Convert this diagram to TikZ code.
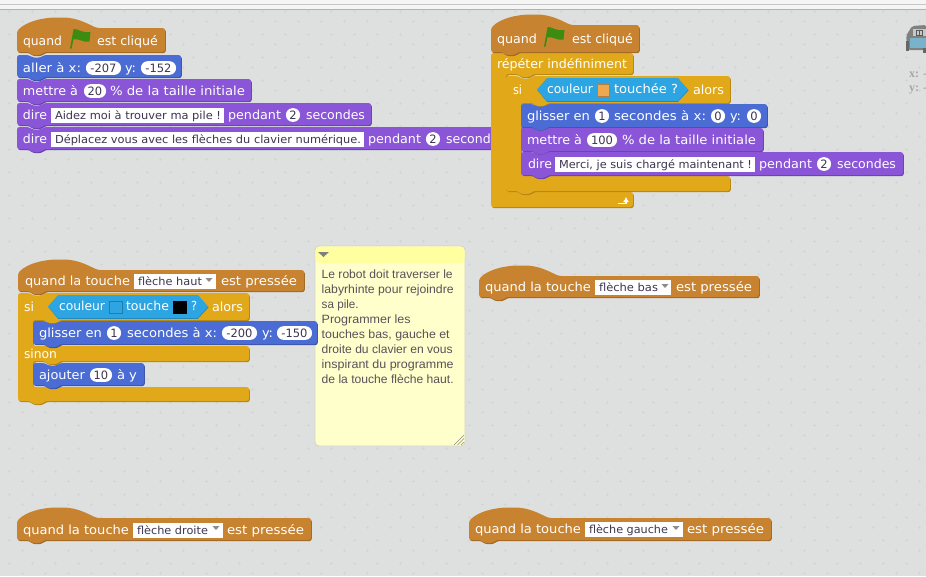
\documentclass[tikz,border=0pt]{standalone}
\usepackage{fontspec}
\usepackage{graphicx}
\usetikzlibrary{arrows.meta}
\setmainfont{DejaVu Sans}
\newfontfamily\notefont{Liberation Sans}
\newfontfamily\coordfont{Liberation Serif}
\definecolor{bgc}{HTML}{DEE0E0}
\definecolor{plusc}{HTML}{D4D6D6}
\definecolor{mot}{HTML}{4A6CD4}\definecolor{motd}{HTML}{3A54A6}
\definecolor{loo}{HTML}{8A55D7}\definecolor{lood}{HTML}{6C42AB}
\definecolor{ctl}{HTML}{E1A91A}\definecolor{ctld}{HTML}{B38613}
\definecolor{evt}{HTML}{C88330}\definecolor{evtd}{HTML}{9F6826}
\definecolor{sen}{HTML}{2CA5E2}\definecolor{send}{HTML}{2384B5}
\definecolor{flagc}{HTML}{3D8C12}
\definecolor{inkc}{HTML}{3D3550}
\definecolor{notec}{HTML}{FFFFCC}\definecolor{noteh}{HTML}{FFFF9F}
\definecolor{noteb}{HTML}{D2D3C8}\definecolor{notet}{HTML}{5C5058}
\definecolor{swo}{HTML}{F0A850}
\newcounter{nid}
\newsavebox{\fitbox}
\tikzset{
  blocktext/.style={anchor=base west,inner sep=0pt,outer sep=0pt,font=\fontsize{12.5}{14}\selectfont},
  x=1pt,y=-1pt,
}
% text fitted to a given width
\newcommand{\fitted}[2]{\sbox{\fitbox}{#2}\pgfmathsetmacro{\fitk}{(#1)/(\the\wd\fitbox/1pt)}\scalebox{\fitk}[1]{\usebox{\fitbox}}}
% text between x1 and x2 on centre line y
\newcommand{\tx}[5][white]{\stepcounter{nid}\pgfmathsetmacro{\fitw}{#3-#2}\node[blocktext,text=#1] (t\thenid) at (#2,#4+4.4) {\fitted{\fitw}{#5}};}
% rounded value field
\newcommand{\pil}[4]{\stepcounter{nid}\fill[white,rounded corners=6.5pt] (#1,#3-6.8) rectangle (#2,#3+6.8);
  \node[blocktext,anchor=base,text=inkc,font=\fontsize{11.5}{12}\selectfont] (t\thenid) at ({(#1+#2)/2},#3+4.2) {#4};}
% white text field: x1 x2 y tx1 tx2 text
\newcommand{\fld}[6]{\fill[white] (#1,#3-7.5) rectangle (#2,#3+7.5);\tx[inkc]{#4}{#5}{#3}{\fontsize{11}{12}\selectfont #6}}
% dropdown triangle
\newcommand{\tri}[2]{\fill[black!45] (#1-3.5,#2-2) -- (#1+3.5,#2-2) -- (#1,#2+2) -- cycle;}
% shaded shape: main, dark, path
\newcommand{\shaded}[3]{\fill[#2,shift={(.8,1.1)},rounded corners=2.5pt] #3; \fill[#1,rounded corners=2.5pt] #3;}
% stack block: col dark x1 y1 x2 y2
\newcommand{\stk}[6]{\shaded{#1}{#2}{(#3,#4) -- (#3+12,#4) -- (#3+15,#4+2.5) -- (#3+24,#4+2.5) -- (#3+27,#4) -- (#5,#4) -- (#5,#6) -- (#3+27,#6) -- (#3+24,#6+3) -- (#3+15,#6+3) -- (#3+12,#6) -- (#3,#6) -- cycle}}
% hat block: col dark x1 y1 x2 y2
\newcommand{\hatb}[6]{\shaded{#1}{#2}{(#3,#4+3) .. controls (#3+9,#4-6) and (#3+24,#4-10.5) .. (#3+43,#4-10.5) .. controls (#3+60,#4-10.5) and (#3+70,#4-4.5) .. (#3+80,#4) -- (#5,#4) -- (#5,#6) -- (#3+27,#6) -- (#3+24,#6+3) -- (#3+15,#6+3) -- (#3+12,#6) -- (#3,#6) -- cycle}}
% C block: col dark x1 y1 x2 y2 ix y3 y4
\newcommand{\cblk}[9]{\shaded{#1}{#2}{(#3,#4) -- (#3+12,#4) -- (#3+15,#4+2.5) -- (#3+24,#4+2.5) -- (#3+27,#4) -- (#5,#4) -- (#5,#6) -- (#7+27,#6) -- (#7+24,#6+3) -- (#7+15,#6+3) -- (#7+12,#6) -- (#7,#6) -- (#7,#8) -- (#5,#8) -- (#5,#9) -- (#3+27,#9) -- (#3+24,#9+3) -- (#3+15,#9+3) -- (#3+12,#9) -- (#3,#9) -- cycle}}
% hexagon predicate: x1 x2 y1 y2
\newcommand{\hexa}[4]{\fill[send] (#1+.5,{(#3+#4)/2+.8}) -- (#1+10,#3+.8) -- (#2-10,#3+.8) -- (#2+.5,{(#3+#4)/2+.8}) -- (#2-10,#4+.8) -- (#1+10,#4+.8) -- cycle;
  \fill[sen] (#1,{(#3+#4)/2}) -- (#1+10,#3) -- (#2-10,#3) -- (#2,{(#3+#4)/2}) -- (#2-10,#4) -- (#1+10,#4) -- cycle;}
% colour swatch
\newcommand{\swatch}[5]{\fill[#5,draw=black!25!#5,line width=.6pt] (#1,#3) rectangle (#2,#4);}
% green flag at top-left corner
\newcommand{\flag}[2]{\begin{scope}[shift={(#1,#2)}]
  \fill[flagc] (0,19.5) -- (3.6,0) .. controls (8,-.5) and (12,4.5) .. (20.5,3) -- (19.5,12.5) .. controls (13,14) and (9,9) .. (3.4,10.5) -- (1.6,19.5) -- cycle;
\end{scope}}
\begin{document}
\begin{tikzpicture}[x=1pt,y=-1pt]
\useasboundingbox (0,0) rectangle (926,576);
\fill[bgc] (0,0) rectangle (926,576);
\fill[white!96!black] (0,0) rectangle (926,9);
\draw[black!22,line width=.8pt] (0,4.4) -- (926,4.4);
\draw[black!30,line width=.9pt] (0,9.4) -- (926,9.4);
\foreach \gx in {22.3,45.3,...,926}\foreach \gy in {21.3,44.3,...,576}{
  \draw[plusc,line width=.5pt] (\gx-1.5,\gy) -- (\gx+1.5,\gy) (\gx,\gy-1.5) -- (\gx,\gy+1.5);}
\foreach \gx in {9.3,32.3,...,926}\foreach \gy in {11,34,...,576}{
  \draw[plusc,line width=.5pt] (\gx-1.5,\gy) -- (\gx+1.5,\gy) (\gx,\gy-1.5) -- (\gx,\gy+1.5);}

% sprite thumbnail
\begin{scope}
\clip (900,20) rectangle (926,100);
\fill[black!50,rounded corners=2pt] (906,36) -- (912,26) -- (926,25) -- (926,50) -- (908,50) -- cycle;
\fill[black!22] (913,29) rectangle (926,36);
\draw[black!65,line width=.7pt] (916,30) rectangle (922,35) (919,30) -- (919,35);
\fill[cyan!50!gray!85] (910,38) rectangle (926,48);
\fill[black!60] (906,41) rectangle (909,51);
\fill[black!60] (923,48) rectangle (926,53);
\node[font=\coordfont\bfseries\fontsize{12}{12}\selectfont,text=black!35,anchor=base west,inner sep=0pt] (coordx) at (909,77) {x: -};
\node[font=\coordfont\bfseries\fontsize{12}{12}\selectfont,text=black!35,anchor=base west,inner sep=0pt] (coordy) at (909,91) {y: -};
\end{scope}

% ---------- script 1
\hatb{evt}{evtd}{17}{28}{165}{52}
\flag{70}{29}
\tx{23}{62}{41}{quand}\tx{97}{158}{41}{est cliqué}
\stk{mot}{motd}{17}{55}{181}{77}
\tx{23}{81}{68}{aller à x:}\pil{86}{121}{68}{-207}\tx{125}{136}{68}{y:}\pil{141}{176}{68}{-152}
\stk{loo}{lood}{17}{79}{251}{101}
\tx{23}{78}{91}{mettre à}\pil{84}{106}{91}{20}\tx{110}{245}{91}{\% de la taille initiale}
\stk{loo}{lood}{17}{103}{371}{125}
\tx{23}{47}{115}{dire}\fld{51}{224}{115}{55}{221}{Aidez moi à trouver ma pile !}\tx{228}{281}{115}{pendant}\pil{286}{300}{115}{2}\tx{306}{365}{115}{secondes}
\stk{loo}{lood}{17}{127}{540}{149}
\tx{23}{47}{139}{dire}\fld{51}{364}{139}{55}{361}{Déplacez vous avec les flèches du clavier numérique.}\tx{368}{421}{139}{pendant}\pil{426}{440}{139}{2}\tx{446}{505}{139}{secondes}

% ---------- script 2
\shaded{ctl}{ctld}{(491,53) -- (503,53) -- (506,55.5) -- (515,55.5) -- (518,53) -- (633,53) -- (633,74) -- (533,74) -- (530,77) -- (521,77) -- (518,74) -- (506,74) -- (506,192) -- (633,192) -- (633,207) -- (491,207) -- cycle}
\hatb{evt}{evtd}{491}{25}{639}{52}
\flag{544}{27}
\tx{497}{537}{39}{quand}\tx{572}{633}{39}{est cliqué}
\tx{497}{627}{64}{répéter indéfiniment}
\draw[white,line width=1.4pt,-{Latex[length=5pt,width=6pt]}] (618,203.5) -- (626,203.5) -- (626,197);
\cblk{ctl}{ctld}{506}{76}{730}{103}{521}{176}{191}
\tx{513}{522}{90}{si}\hexa{537}{688}{78}{101}
\tx{547}{593}{89.5}{couleur}\swatch{597}{609}{84}{96}{swo}\tx{614}{678}{89.5}{touchée ?}\tx{693}{724}{90}{alors}
\stk{mot}{motd}{521}{104}{767}{127}
\tx{527}{590}{116}{glisser en}\pil{595}{609}{116}{1}\tx{614}{706}{116}{secondes à x:}\pil{711}{725}{116}{0}\tx{730}{741}{116}{y:}\pil{747}{761}{116}{0}
\stk{loo}{lood}{521}{128}{763}{151}
\tx{527}{582}{140}{mettre à}\pil{587}{617}{140}{100}\tx{622}{756}{140}{\% de la taille initiale}
\stk{loo}{lood}{521}{152}{903}{175}
\tx{528}{552}{164}{dire}\fld{555}{755}{164}{559}{752}{Merci, je suis chargé maintenant !}\tx{759}{812}{164}{pendant}\pil{817}{831}{164}{2}\tx{837}{896}{164}{secondes}

% ---------- note
\fill[notec,draw=noteb,line width=.8pt,rounded corners=4pt] (315,246) rectangle (465,446);
\fill[noteh,rounded corners=4pt] (315.5,246.5) -- (464.5,246.5) -- (464.5,263) -- (315.5,263) -- cycle;
\fill[black!50] (318,252) -- (329,252) -- (323.5,257) -- cycle;
\draw[black!45,line width=.5pt] (454,445) -- (464,435) (457.5,445) -- (464,438.5) (461,445) -- (464,442);
\foreach \ny/\nt/\nw in {274/Le robot doit traverser le/131,289/labyrhinte pour rejoindre/132,304/sa pile./37,319/Programmer les/89,334/{touches bas, gauche et}/128,349/{droite du clavier en vous}/131,364/inspirant du programme/132,379/de la touche flèche haut./132}{
  \stepcounter{nid}\node[anchor=base west,inner sep=0pt,text=notet,font=\notefont\fontsize{12}{14}\selectfont] (n\thenid) at (321.5,\ny+4.3) {\fitted{\nw}{\nt}};}

% ---------- script 3
\shaded{ctl}{ctld}{(18,293) -- (30,293) -- (33,295.5) -- (42,295.5) -- (45,293) -- (249,293) -- (249,320) -- (60,320) -- (57,323) -- (48,323) -- (45,320) -- (33,320) -- (33,346) -- (249,346) -- (249,361) -- (60,361) -- (57,364) -- (48,364) -- (45,361) -- (33,361) -- (33,387) -- (249,387) -- (249,401) -- (45,401) -- (42,404) -- (33,404) -- (30,401) -- (18,401) -- cycle}
\hatb{evt}{evtd}{18}{270}{304}{291}
\tx{25}{130}{281}{quand la touche}\fld{134}{216}{281}{138}{202}{flèche haut}\tri{209}{280}\tx{221}{297}{281}{est pressée}
\tx{24}{34}{307}{si}\hexa{48}{208}{295}{318}
\tx{59}{105}{306.5}{couleur}\swatch{109}{122}{301}{313}{sen}\tx{126}{169}{306.5}{touche}\swatch{173}{186}{301}{313}{black}\tx{191}{197}{306.5}{?}\tx{212}{243}{307}{alors}
\stk{mot}{motd}{33}{321}{317}{344}
\tx{39}{102}{333}{glisser en}\pil{107}{121}{333}{1}\tx{127}{217}{333}{secondes à x:}\pil{222}{257}{333}{-200}\tx{262}{273}{333}{y:}\pil{277}{312}{333}{-150}
\tx{24}{57}{354}{sinon}
\stk{mot}{motd}{33}{363}{144}{385}
\tx{39}{85}{375}{ajouter}\pil{90}{112}{375}{10}\tx{117}{137}{375}{à y}

% ---------- lone hats
\hatb{evt}{evtd}{479}{276}{759}{297}
\tx{485}{591}{287}{quand la touche}\fld{595}{671}{287}{599}{658}{flèche bas}\tri{665}{286}\tx{676}{752}{287}{est pressée}
\hatb{evt}{evtd}{17}{518}{311}{540}
\tx{23}{129}{530}{quand la touche}\fld{133}{223}{530}{137}{208}{flèche droite}\tri{216}{528}\tx{227}{304}{530}{est pressée}
\hatb{evt}{evtd}{469}{518}{771}{540}
\tx{475}{581}{529}{quand la touche}\fld{585}{683}{529}{589}{668}{flèche gauche}\tri{676}{528}\tx{687}{764}{529}{est pressée}
\end{tikzpicture}
\end{document}
